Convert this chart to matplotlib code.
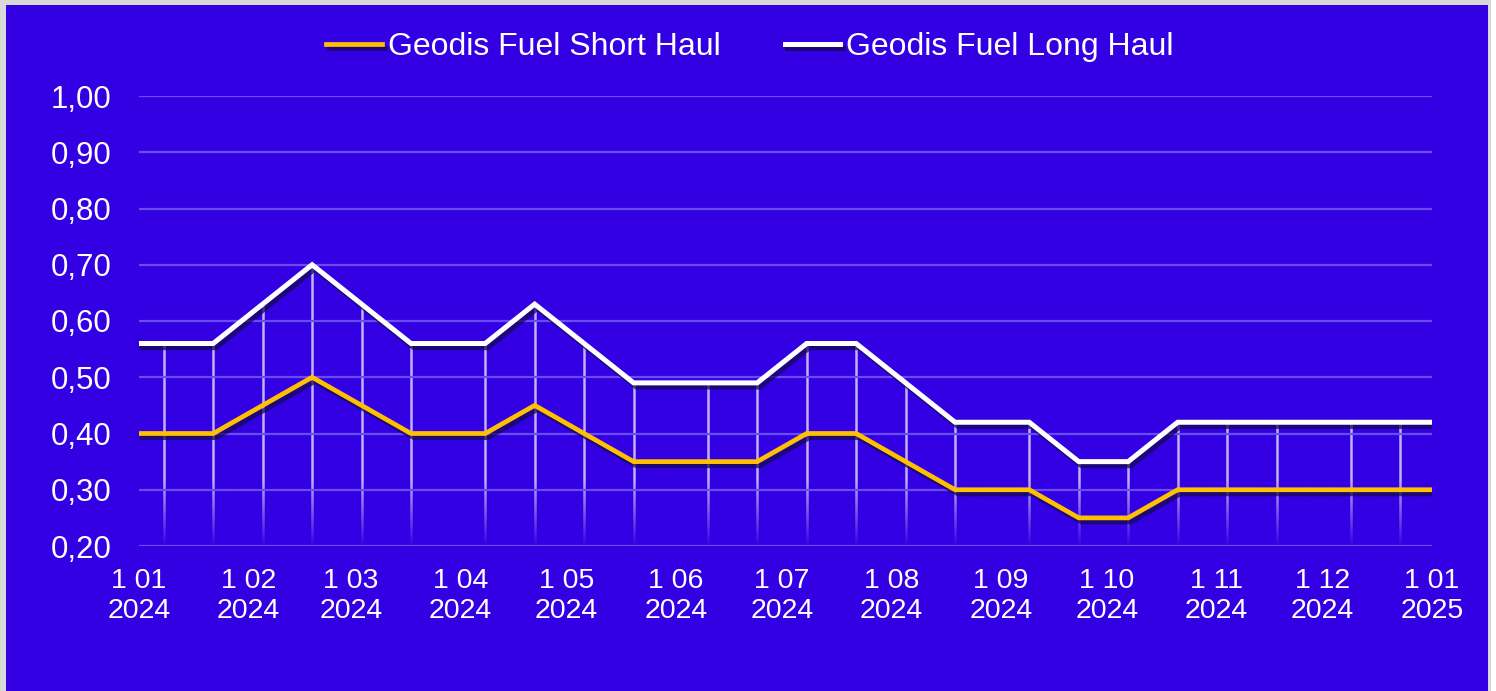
import numpy as np
import pandas as pd
import matplotlib
matplotlib.use("Agg")
from matplotlib import pyplot as plt
from matplotlib import patheffects as pe
from matplotlib.colors import to_rgb
from matplotlib.patches import Rectangle
import matplotlib.dates as mdates

plt.rcParams["font.family"] = ["Liberation Sans", "DejaVu Sans"]

# data
dates = pd.to_datetime([
    "2024-01-01", "2024-01-08", "2024-01-22", "2024-02-05", "2024-02-19",
    "2024-03-04", "2024-03-18", "2024-04-08", "2024-04-22", "2024-05-06",
    "2024-05-20", "2024-06-10", "2024-06-24", "2024-07-08", "2024-07-22",
    "2024-08-05", "2024-08-19", "2024-09-09", "2024-09-23", "2024-10-07",
    "2024-10-21", "2024-11-04", "2024-11-18", "2024-12-09", "2024-12-23",
    "2025-01-01",
])
short_haul = [0.40, 0.40, 0.40, 0.45, 0.50, 0.45, 0.40, 0.40, 0.45, 0.40,
              0.35, 0.35, 0.35, 0.40, 0.40, 0.35, 0.30, 0.30, 0.25, 0.25,
              0.30, 0.30, 0.30, 0.30, 0.30, 0.30]
long_haul = [0.56, 0.56, 0.56, 0.63, 0.70, 0.63, 0.56, 0.56, 0.63, 0.56,
             0.49, 0.49, 0.49, 0.56, 0.56, 0.49, 0.42, 0.42, 0.35, 0.35,
             0.42, 0.42, 0.42, 0.42, 0.42, 0.42]
y_ticks = [0.2, 0.3, 0.4, 0.5, 0.6, 0.7, 0.8, 0.9, 1.0]
month_ticks = pd.date_range("2024-01-01", "2025-01-01", freq="MS")

BG = "#3200E3"
GRID = "#6A4DF2"
YELLOW = "#FFC000"

W, H = 1496, 691
fig = plt.figure(figsize=(W / 100, H / 100), dpi=100, facecolor="#D9D9D9")
fig.patches.append(Rectangle((1491 / W, 0), 5 / W, 1, transform=fig.transFigure,
                             facecolor="white", edgecolor="none", zorder=-2))
fig.patches.append(Rectangle((6 / W, 0), 1482 / W, 686 / H, transform=fig.transFigure,
                             facecolor=BG, edgecolor="none", zorder=-1))

ax = fig.add_axes([139 / W, (H - 546) / H, (1432 - 139) / W, 450 / H])
ax.set_facecolor("none")

x0 = mdates.date2num(pd.Timestamp("2024-01-01"))
x1 = mdates.date2num(pd.Timestamp("2025-01-01"))
xn = mdates.date2num(dates)

# drop lines from the long haul series down to the axis floor
ax.vlines(xn[1:-1], 0.2, long_haul[1:-1], colors="white", alpha=0.7,
          linewidth=1.8, zorder=2)

# fade the drop lines out near the bottom
fade = np.zeros((200, 2, 4))
fade[..., :3] = to_rgb(BG)
fade[..., 3] = np.clip(1 - np.linspace(0, 1, 200) / 0.85, 0, 1)[:, None]
ax.imshow(fade, extent=(x0, x1, 0.2, 0.34), origin="lower", aspect="auto",
          interpolation="bilinear", zorder=2.3)

# horizontal grid
for yv in y_ticks:
    ax.axhline(yv, color=GRID, lw=1.6, zorder=2.5)

shadow = [pe.SimpleLineShadow(offset=(2, -3), shadow_color="#170a55", alpha=0.75),
          pe.Normal()]
ax.plot(xn, short_haul, color=YELLOW, lw=3.4, zorder=3, solid_joinstyle="miter",
        label="Geodis Fuel Short Haul", path_effects=shadow)
ax.plot(xn, long_haul, color="white", lw=3.6, zorder=4, solid_joinstyle="miter",
        label="Geodis Fuel Long Haul", path_effects=shadow)

ax.set_xlim(x0, x1)
ax.set_ylim(0.2, 1.0)
ax.set_yticks(y_ticks)
ax.set_yticklabels([f"{v:.2f}".replace(".", ",") for v in y_ticks])
ax.set_xticks(mdates.date2num(month_ticks))
ax.set_xticklabels([f"{d.day} {d.month:02d}\n{d.year}" for d in month_ticks],
                   linespacing=1.2)
ax.tick_params(axis="y", length=0, pad=20, labelsize=22.5, labelcolor="white")
ax.tick_params(axis="x", length=0, pad=16, labelsize=20.5, labelcolor="white")
for s in ax.spines.values():
    s.set_visible(False)

fig.legend(loc="center", bbox_to_anchor=(750 / W, (H - 47) / H), ncol=2,
           frameon=False, fontsize=23, labelcolor="white",
           handlelength=1.75, handletextpad=0.18, columnspacing=2.0)

fig.savefig("out.png", dpi=100, facecolor=fig.get_facecolor())
